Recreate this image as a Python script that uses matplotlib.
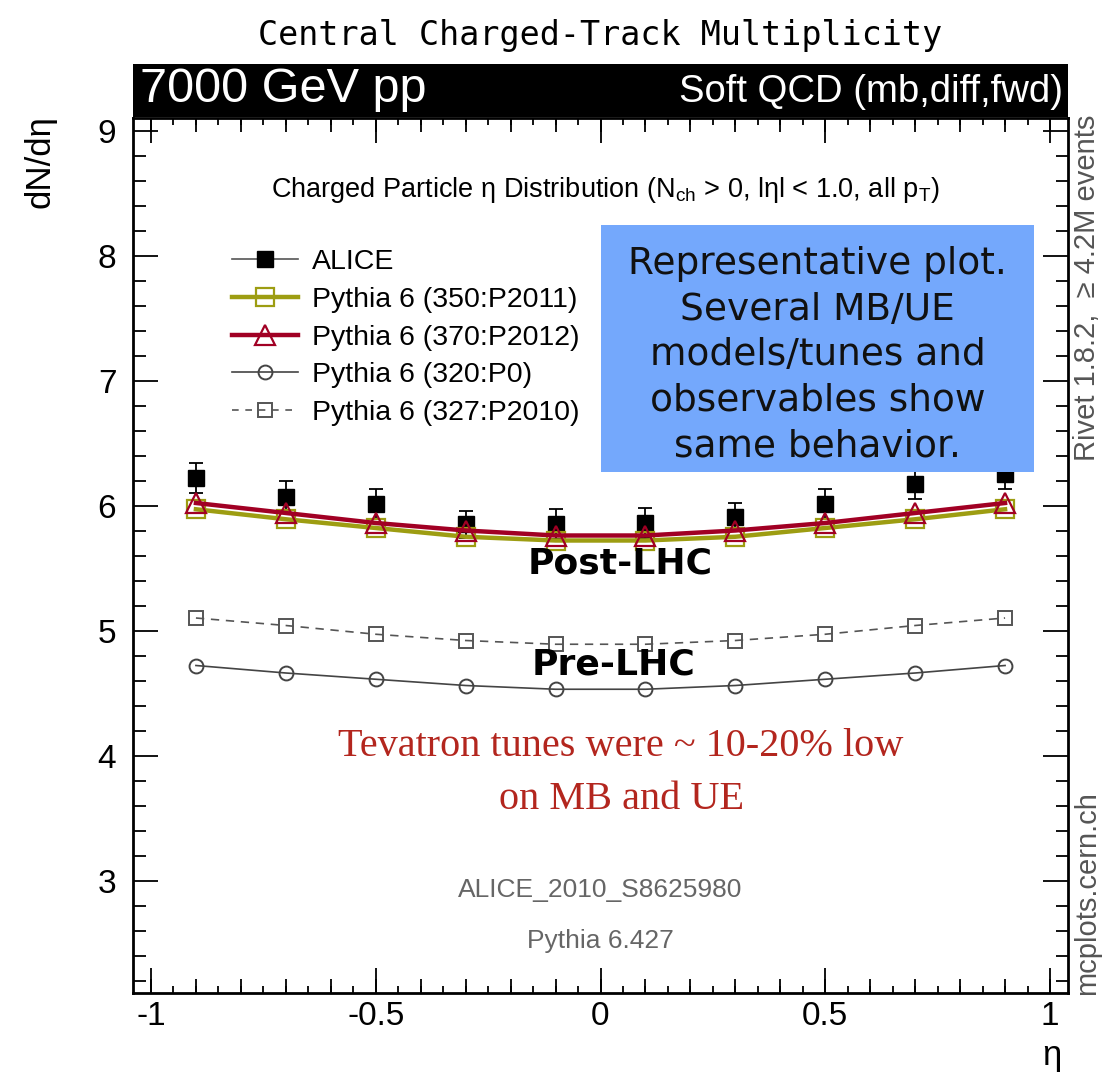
#!/usr/bin/env python3
"""Central charged-track multiplicity, ALICE vs Pythia 6 tunes."""

import matplotlib
matplotlib.use('Agg')
from matplotlib import pyplot as plt
from matplotlib.lines import Line2D
from matplotlib.patches import Rectangle
from matplotlib.ticker import MultipleLocator

ETA = [-0.9, -0.7, -0.5, -0.3, -0.1, 0.1, 0.3, 0.5, 0.7, 0.9]
ALICE = [6.22, 6.07, 6.01, 5.85, 5.85, 5.86, 5.91, 6.01, 6.17, 6.25]
ALICE_ERR = [0.12, 0.13, 0.12, 0.11, 0.12, 0.12, 0.11, 0.12, 0.12, 0.12]
P2011 = [5.97, 5.89, 5.82, 5.75, 5.72, 5.72, 5.75, 5.82, 5.89, 5.97]
P2012 = [6.02, 5.94, 5.86, 5.80, 5.76, 5.76, 5.80, 5.86, 5.94, 6.02]
P0 = [4.72, 4.66, 4.61, 4.56, 4.53, 4.53, 4.56, 4.61, 4.66, 4.72]
P2010 = [5.10, 5.04, 4.97, 4.92, 4.89, 4.89, 4.92, 4.97, 5.04, 5.10]
LABELS = ['ALICE', 'Pythia 6 (350:P2011)', 'Pythia 6 (370:P2012)',
          'Pythia 6 (320:P0)', 'Pythia 6 (327:P2010)']

OLIVE = '#9d9d12'
CRIMSON = '#a10024'
SANS = 'Liberation Sans'


def main():
    plt.rcParams['font.family'] = [SANS, 'DejaVu Sans']
    plt.rcParams['mathtext.fontset'] = 'custom'
    plt.rcParams['mathtext.rm'] = SANS
    plt.rcParams['mathtext.it'] = SANS + ':italic'

    fig = plt.figure(figsize=(11.02, 10.72), dpi=100)
    W, H = 1102.0, 1072.0
    left, right, top, bottom = 133, 1068, 118, 993
    ax = fig.add_axes([left / W, 1 - bottom / H, (right - left) / W,
                       (bottom - top) / H])

    # data and models
    ax.errorbar(ETA, ALICE, yerr=ALICE_ERR, fmt='s', color='black',
                ms=11, capsize=5, elinewidth=1.3, capthick=1.3, zorder=2)
    ax.plot(ETA, P2011, color=OLIVE, lw=3.2, marker='s', ms=13, mfc='none',
            mec=OLIVE, mew=1.6, zorder=3)
    ax.plot(ETA, P2012, color=CRIMSON, lw=3.2, marker='^', ms=14,
            mfc='none', mec=CRIMSON, mew=1.6, zorder=4)
    ax.plot(ETA, P0, color='#444444', lw=1.2, marker='o', ms=10, mfc='none',
            mec='#444444', mew=1.4, zorder=3)
    ax.plot(ETA, P2010, color='#555555', lw=1.2, ls=(0, (5, 4)), marker='s',
            ms=10, mfc='none', mec='#555555', mew=1.4, zorder=3)

    ax.set_xlim(-1.04, 1.04)
    ax.set_ylim(2.1, 9.1)
    ax.xaxis.set_major_locator(MultipleLocator(0.5))
    ax.xaxis.set_minor_locator(MultipleLocator(0.05))
    ax.yaxis.set_major_locator(MultipleLocator(1))
    ax.yaxis.set_minor_locator(MultipleLocator(0.2))
    ax.set_xticks([-1, -0.5, 0, 0.5, 1], ['-1', '-0.5', '0', '0.5', '1'])
    ax.set_yticks([3, 4, 5, 6, 7, 8, 9])
    ax.tick_params(which='both', direction='in', top=True, right=True,
                   width=1.3, labelsize=24)
    ax.tick_params(which='major', length=18)
    ax.tick_params(axis='y', which='minor', length=9)
    ax.tick_params(axis='x', which='minor', length=5)
    ax.tick_params(axis='x', which='major', pad=6)
    ax.tick_params(axis='y', which='major', pad=12)
    for side in ['bottom', 'top']:
        sec = ax.secondary_xaxis(side)
        sec.set_xticks([i / 10 for i in range(-10, 11)])
        sec.tick_params(direction='in', length=10, width=1.3,
                        labelbottom=False, labeltop=False)
        sec.spines[side].set_visible(False)
    for sp in ax.spines.values():
        sp.set_linewidth(2)

    # legend
    handles = [
        Line2D([], [], color='#555555', lw=1.2, marker='s', ms=11,
               mfc='black', mec='black'),
        Line2D([], [], color=OLIVE, lw=3.2, marker='s', ms=13, mfc='none',
               mec=OLIVE, mew=1.6),
        Line2D([], [], color=CRIMSON, lw=3.2, marker='^', ms=14, mfc='none',
               mec=CRIMSON, mew=1.6),
        Line2D([], [], color='#444444', lw=1.2, marker='o', ms=10,
               mfc='none', mec='#444444', mew=1.4),
        Line2D([], [], color='#555555', lw=1.2, ls=(0, (4, 4)), marker='s',
               ms=10, mfc='none', mec='#555555', mew=1.4),
    ]
    ax.legend(handles, LABELS, loc='upper left',
              bbox_to_anchor=(0.106, 0.85), frameon=False, fontsize=20.5,
              handlelength=2.3, handletextpad=0.5, labelspacing=0.41,
              borderpad=0, borderaxespad=0)

    # annotations inside the frame
    ax.text(0.505, 0.918,
            'Charged Particle \u03b7 Distribution (N$_{\\mathrm{ch}}$ > 0, '
            'l\u03b7l < 1.0, all p$_{\\mathrm{T}}$)',
            transform=ax.transAxes, ha='center', va='center', fontsize=19.5)
    ax.text(0.732, 0.729, 'Representative plot.\nSeveral MB/UE\n'
            'models/tunes and\nobservables show\nsame behavior.',
            transform=ax.transAxes, ha='center', va='center', fontsize=27,
            family='DejaVu Sans', color='#111111', linespacing=1.34,
            zorder=6)
    ax.add_patch(Rectangle(((601 - left) / (right - left),
                            1 - (472 - top) / (bottom - top)),
                           (1034 - 601) / (right - left),
                           (472 - 225) / (bottom - top),
                           transform=ax.transAxes, facecolor='#74a8fc',
                           edgecolor='none', zorder=5))
    ax.text(0.521, 0.491, 'Post-LHC', transform=ax.transAxes, ha='center',
            va='center', fontsize=26, family='DejaVu Sans',
            fontweight='bold', zorder=6)
    ax.text(0.514, 0.375, 'Pre-LHC', transform=ax.transAxes, ha='center',
            va='center', fontsize=26, family='DejaVu Sans',
            fontweight='bold', zorder=6)
    ax.text(0.522, 0.251, 'Tevatron tunes were ~ 10-20% low\non MB and UE',
            transform=ax.transAxes, ha='center', va='center', fontsize=29,
            family='Liberation Serif', color='#b3261e', linespacing=1.57)
    ax.text(0.5, 0.118, 'ALICE_2010_S8625980', transform=ax.transAxes,
            ha='center', va='center', fontsize=19, color='#666666')
    ax.text(0.5, 0.059, 'Pythia 6.427', transform=ax.transAxes,
            ha='center', va='center', fontsize=19, color='#666666')

    # header bar and titles
    fig.add_artist(Rectangle((left / W, 1 - 117 / H), (right - left) / W,
                             53 / H, transform=fig.transFigure,
                             facecolor='black', edgecolor='none'))
    fig.text(140 / W, 1 - 90 / H, '7000 GeV pp', color='white',
             fontsize=35, ha='left', va='center')
    fig.text(1063 / W, 1 - 92 / H, 'Soft QCD (mb,diff,fwd)', color='white',
             fontsize=27.5, ha='right', va='center')
    fig.text(600 / W, 1 - 35 / H, 'Central Charged-Track Multiplicity',
             fontsize=24, family='DejaVu Sans Mono', ha='center',
             va='center')
    fig.text(40 / W, 1 - 115 / H, 'dN/d\u03b7', rotation=90, fontsize=25,
             ha='center', va='top')
    fig.text(1052 / W, 1 - 1055 / H, '\u03b7', fontsize=25, ha='center',
             va='center')
    fig.text(1087 / W, 1 - 115 / H, 'Rivet 1.8.2,  \u2265 4.2M events',
             rotation=90, fontsize=21, color='#555555', ha='center',
             va='top')
    fig.text(1087 / W, 1 - 995 / H, 'mcplots.cern.ch', rotation=90,
             fontsize=21, color='#555555', ha='center', va='bottom')

    fig.savefig('out.png', dpi=100)


if __name__ == '__main__':
    main()
